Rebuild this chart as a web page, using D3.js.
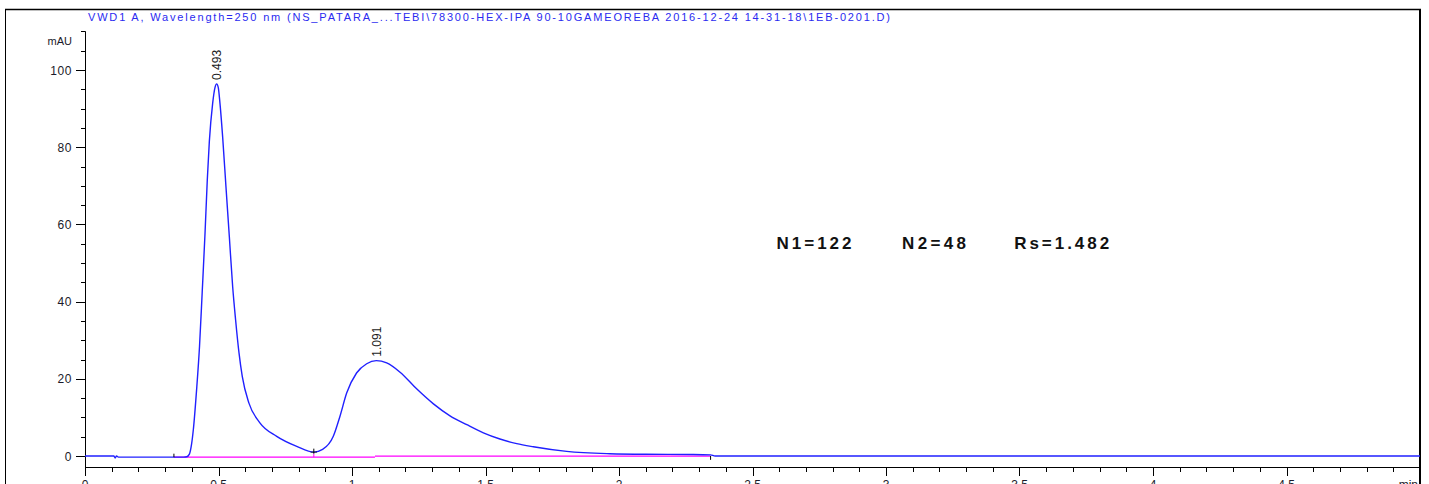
<!DOCTYPE html>
<html><head><meta charset="utf-8">
<script src="https://cdn.jsdelivr.net/npm/d3@7/dist/d3.min.js"></script>
<style>body{margin:0;background:#fff}svg{display:block}text{font-family:"Liberation Sans",Arial,sans-serif}</style>
</head><body><svg id="c" width="1429" height="484"></svg>
<script>
// Signal (time in min, absorbance in mAU)
const signalTime = [0,0.108,0.113,0.118,0.125,0.37,0.381,0.391,0.399,0.4057,0.418,0.4290,0.4390,0.4494,0.458,0.4657,0.478,0.487,0.493,0.499,0.5056,0.5156,0.528,0.5406,0.553,0.564,0.5768,0.589,0.614,0.655,0.718,0.793,0.857,0.89,0.93,0.955,0.98,1.017,1.055,1.091,1.13,1.18,1.242,1.305,1.367,1.43,1.492,1.554,1.617,1.679,1.804,1.966,2.1,2.278,2.343,2.36,5.0];
const signalValue = [0,0,-0.5,0,-0.3,-0.3,-0.2,0.5,3.0,6.8,17.2,28.5,42.5,57.5,71.5,81.5,91.3,95.5,96.4,95.5,91.3,82.6,69.7,56.8,43.9,35.3,26.7,20.6,13.7,8.6,5.1,2.5,1.0,1.7,5.1,10.3,16.3,21.5,23.9,24.7,24.1,21.7,17.4,13.5,10.4,8.1,6.0,4.4,3.2,2.4,1.2,0.6,0.45,0.4,0.3,0,0];
// Integration baselines
const baseline1Time = [0.333,1.086];
const baseline1Value = [-0.3,-0.3];
const baseline2Time = [1.086,2.343];
const baseline2Value = [-0.05,-0.05];
// Peaks
const peakTimes = [0.493,1.091];
const peakHeights = [96.4,24.7];
const peakLabels = ["0.493","1.091"];
// Axis ticks
const xTicks = [0,0.5,1,1.5,2,2.5,3,3.5,4,4.5];
const yTicks = [0,20,40,60,80,100];
const title = "VWD1 A, Wavelength=250 nm (NS_PATARA_...TEBI\\78300-HEX-IPA 90-10GAMEOREBA 2016-12-24 14-31-18\\1EB-0201.D)";
const annotations = ["N1=122","N2=48","Rs=1.482"];
const annotationX = [2.59,3.06,3.48];

const svg = d3.select("#c");
const x = d3.scaleLinear().domain([0,5]).range([85,1420]);
const y = d3.scaleLinear().domain([0,100]).range([456,70]);

// outer frame
svg.append("line").attr("x1",5.5).attr("x2",5.5).attr("y1",9).attr("y2",484).attr("stroke","#000").attr("stroke-width",1);
svg.append("line").attr("x1",5).attr("x2",1421).attr("y1",9.5).attr("y2",9.5).attr("stroke","#000").attr("stroke-width",1.5);
svg.append("line").attr("x1",1420).attr("x2",1420).attr("y1",9).attr("y2",484).attr("stroke","#000").attr("stroke-width",2);

// title
svg.append("text").attr("x",88).attr("y",20.5).attr("font-size",11).attr("fill","#2a2af0")
  .attr("textLength",802).attr("lengthAdjust","spacing").text(title);

// y axis
const yTop = 110;
const gy = svg.append("g");
gy.append("line").attr("x1",85.5).attr("x2",85.5).attr("y1",y(yTop)).attr("y2",467).attr("stroke","#000");
d3.range(0,111,5).forEach(v=>{
  const major = v%20===0 && v<=100;
  gy.append("line").attr("x1",major?76:81).attr("x2",85.5).attr("y1",Math.round(y(v))+0.5).attr("y2",Math.round(y(v))+0.5).attr("stroke","#000");
});
yTicks.forEach(v=>{
  gy.append("text").attr("x",72).attr("y",y(v)+4.5).attr("text-anchor","end").attr("font-size",12).attr("fill","#1a1a2a").attr("letter-spacing","0.6").text(v);
});
gy.append("text").attr("x",72).attr("y",44.5).attr("text-anchor","end").attr("font-size",11).attr("fill","#1a1a2a").text("mAU");

// x axis
const gx = svg.append("g");
gx.append("line").attr("x1",85).attr("x2",1420).attr("y1",467.5).attr("y2",467.5).attr("stroke","#000");
d3.range(0,50).forEach(i=>{
  const t=i/10, major=i%5===0;
  const px=Math.round(x(t))+0.5;
  gx.append("line").attr("x1",px).attr("x2",px).attr("y1",467.5).attr("y2",major?476:472).attr("stroke","#000");
});
xTicks.forEach(t=>{
  gx.append("text").attr("x",x(t)).attr("y",489).attr("text-anchor","middle").attr("font-size",12).attr("fill","#1a1a2a").text(t);
});
gx.append("text").attr("x",1418).attr("y",489).attr("text-anchor","end").attr("font-size",12).attr("fill","#1a1a2a").text("min");

// baselines (pink)
const line = d3.line().x(d=>x(d[0])).y(d=>y(d[1]));
svg.append("path").attr("d",line(baseline1Time.map((t,i)=>[t,baseline1Value[i]]))).attr("stroke","#ff00ff").attr("stroke-width",1.3).attr("fill","none");
svg.append("path").attr("d",line(baseline2Time.map((t,i)=>[t,baseline2Value[i]]))).attr("stroke","#ff00ff").attr("stroke-width",1.3).attr("fill","none");

// signal
const sline = d3.line().x(d=>x(d[0])).y(d=>y(d[1])).curve(d3.curveMonotoneX);
svg.append("path").attr("d",sline(signalTime.map((t,i)=>[t,signalValue[i]]))).attr("stroke","#2020ff").attr("stroke-width",1.4).attr("fill","none");

// integration marks
svg.append("line").attr("x1",x(0.333)).attr("x2",x(0.333)).attr("y1",y(0.6)).attr("y2",y(-0.3)).attr("stroke","#000");
svg.append("line").attr("x1",x(0.857)).attr("x2",x(0.857)).attr("y1",y(-0.3)).attr("y2",y(0.6)).attr("stroke","#ff00ff");
svg.append("line").attr("x1",x(0.857)).attr("x2",x(0.857)).attr("y1",y(0.6)).attr("y2",y(1.9)).attr("stroke","#000");
svg.append("line").attr("x1",x(0.845)).attr("x2",x(0.869)).attr("y1",y(1.0)).attr("y2",y(1.0)).attr("stroke","#000").attr("stroke-width",0.8);
svg.append("line").attr("x1",x(2.343)).attr("x2",x(2.343)).attr("y1",y(0)).attr("y2",y(-1)).attr("stroke","#000");

// peak labels
peakTimes.forEach((t,i)=>{
  const px = x(t)+4.5, py = y(peakHeights[i])-4;
  svg.append("text").attr("transform",`translate(${px},${py}) rotate(-90)`).attr("font-size",12).attr("fill","#1a1a1a").text(peakLabels[i]);
});

// annotations
const annW=[75,64,95];
annotations.forEach((s,i)=>{
  svg.append("text").attr("x",x(annotationX[i])).attr("y",249).attr("font-size",17).attr("font-weight","bold").attr("fill","#111")
   .attr("textLength",annW[i]).attr("lengthAdjust","spacing").text(s);
});
</script></body></html>
